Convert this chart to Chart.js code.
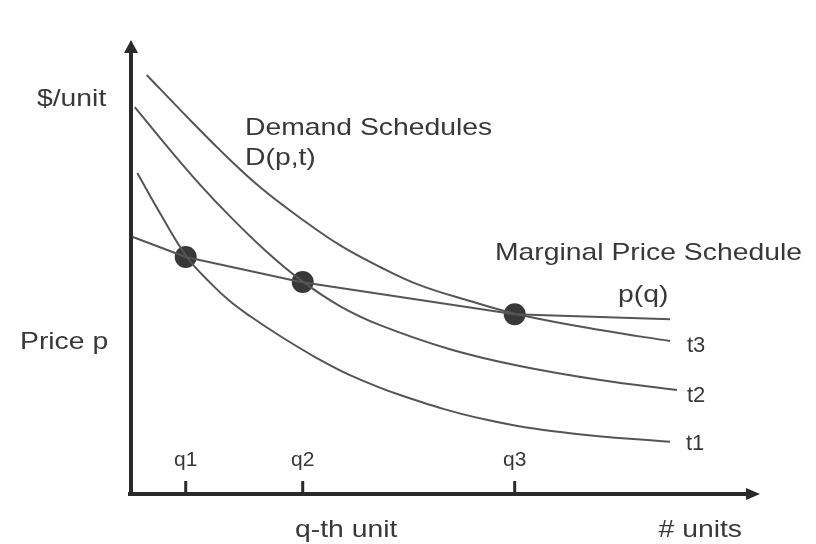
<!DOCTYPE html>
<html>
<head>
<meta charset="utf-8">
<script src="https://cdn.jsdelivr.net/npm/chart.js@4.4.1/dist/chart.umd.min.js"></script>
<style>
  html, body { margin: 0; padding: 0; background: #ffffff; }
  #wrap { width: 816px; height: 544px; }
</style>
</head>
<body>
<div id="wrap"><canvas id="c" width="816" height="544"></canvas></div>
<script>
// ---- data (arbitrary units: x = # units 0..100, y = $/unit 0..100) ----
const t1X = [1.0, 4.6, 8.9, 12.6, 15.7, 18.9, 23.7, 29.6, 34.8, 42.8, 56.0, 69.8, 85.7];
const t1Y = [70.7, 61.9, 52.2, 46.5, 42.5, 39.2, 34.8, 29.9, 26.2, 21.8, 16.5, 13.4, 11.5];

const t2X = [0.6, 6.2, 11.0, 15.7, 21.3, 27.0, 33.2, 39.6, 50.7, 61.8, 74.6, 86.8];
const t2Y = [85.2, 75.8, 68.1, 61.2, 53.7, 47.1, 41.4, 37.2, 31.9, 28.2, 25.1, 22.9];

const t3X = [2.5, 8.6, 14.1, 20.5, 26.9, 33.2, 39.6, 45.9, 53.9, 61.4, 74.6, 85.7];
const t3Y = [92.3, 83.5, 75.8, 67.6, 60.8, 54.8, 50.0, 46.0, 42.5, 39.6, 36.1, 33.7];

const priceX = [0.3, 8.7, 27.0, 61.0, 85.7];
const priceY = [56.6, 52.2, 46.7, 39.6, 38.5];

const qValues = [8.7, 27.3, 61.0];
const qLabels = ["q1", "q2", "q3"];
const dotY = [52.2, 46.7, 39.6];

const curveLabels = ["t1", "t2", "t3"];

const pts = (xs, ys) => xs.map((x, i) => ({ x: x, y: ys[i] }));

const INK = '#383838';
const LINE = '#555555';
const FONT = '"Liberation Sans", Arial, sans-serif';

function drawText(ctx, s, x, y, size, sx, align) {
  ctx.save();
  ctx.font = size + 'px ' + FONT;
  ctx.fillStyle = INK;
  ctx.textBaseline = 'alphabetic';
  ctx.textAlign = 'left';
  const w = ctx.measureText(s).width * sx;
  let left = x;
  if (align === 'center') left = x - w / 2;
  else if (align === 'right') left = x - w;
  ctx.translate(left, y);
  ctx.scale(sx, 1);
  ctx.fillText(s, 0, 0);
  ctx.restore();
}

const diagramPlugin = {
  id: 'diagram',
  beforeDatasetsDraw(chart) {
    const ctx = chart.ctx;
    const xs = chart.scales.x, ys = chart.scales.y;
    const x0 = xs.getPixelForValue(0), y0 = ys.getPixelForValue(0);
    const yTop = ys.getPixelForValue(100), xEnd = xs.getPixelForValue(100);
    ctx.save();
    ctx.strokeStyle = '#2a2a2a';
    ctx.fillStyle = '#2a2a2a';
    ctx.lineWidth = 4;
    ctx.lineCap = 'butt';
    // y axis
    ctx.beginPath();
    ctx.moveTo(x0, y0 + 2);
    ctx.lineTo(x0, yTop + 10);
    ctx.stroke();
    ctx.beginPath();
    ctx.moveTo(x0, yTop);
    ctx.lineTo(x0 - 7, yTop + 13);
    ctx.lineTo(x0 + 7, yTop + 13);
    ctx.closePath();
    ctx.fill();
    // x axis
    ctx.beginPath();
    ctx.moveTo(x0 - 3, y0);
    ctx.lineTo(xEnd - 10, y0);
    ctx.stroke();
    ctx.beginPath();
    ctx.moveTo(xEnd, y0);
    ctx.lineTo(xEnd - 14, y0 - 6);
    ctx.lineTo(xEnd - 14, y0 + 6);
    ctx.closePath();
    ctx.fill();
    // q tick marks
    ctx.lineWidth = 3;
    qValues.forEach(q => {
      const px = xs.getPixelForValue(q);
      ctx.beginPath();
      ctx.moveTo(px, y0);
      ctx.lineTo(px, y0 - 13);
      ctx.stroke();
    });
    ctx.restore();
  },
  afterDraw(chart) {
    const ctx = chart.ctx;
    const xs = chart.scales.x;
    const S = 1.18;
    // tick labels
    qValues.forEach((q, i) => {
      drawText(ctx, qLabels[i], xs.getPixelForValue(q), 466, 20, 1.05, 'center');
    });
    // curve end labels
    drawText(ctx, curveLabels[2], 687, 352, 22, 1.0, 'left');
    drawText(ctx, curveLabels[1], 687, 402, 22, 1.0, 'left');
    drawText(ctx, curveLabels[0], 686, 450, 22, 1.0, 'left');
    // annotations
    drawText(ctx, '$/unit', 37, 106, 24, S, 'left');
    drawText(ctx, 'Price p', 20, 349, 24, S, 'left');
    drawText(ctx, 'Demand Schedules', 245, 135, 24, S, 'left');
    drawText(ctx, 'D(p,t)', 245, 165, 24, S, 'left');
    drawText(ctx, 'Marginal Price Schedule', 495, 260, 24, S, 'left');
    drawText(ctx, 'p(q)', 618, 302, 24, S, 'left');
    drawText(ctx, 'q-th unit', 295, 537, 24, S, 'left');
    drawText(ctx, '# units', 742, 537, 24, S, 'right');
  }
};

const curveStyle = {
  showLine: true,
  pointRadius: 0,
  borderColor: LINE,
  borderWidth: 2,
  tension: 0.4,
  fill: false
};

new Chart(document.getElementById('c'), {
  type: 'scatter',
  data: {
    datasets: [
      Object.assign({ label: 't1', data: pts(t1X, t1Y) }, curveStyle),
      Object.assign({ label: 't2', data: pts(t2X, t2Y) }, curveStyle),
      Object.assign({ label: 't3', data: pts(t3X, t3Y) }, curveStyle),
      { label: 'p(q)', data: pts(priceX, priceY), showLine: true, pointRadius: 0,
        borderColor: LINE, borderWidth: 2, tension: 0, fill: false },
      { label: 'optimal', data: pts(qValues, dotY), showLine: false, pointRadius: 11,
        pointHoverRadius: 11, backgroundColor: '#383838', borderColor: '#383838', borderWidth: 0 }
    ]
  },
  options: {
    responsive: false,
    animation: false,
    devicePixelRatio: 1,
    layout: { padding: { left: 131, right: 56, top: 40, bottom: 50 } },
    scales: {
      x: { type: 'linear', min: 0, max: 100, display: false },
      y: { type: 'linear', min: 0, max: 100, display: false }
    },
    plugins: { legend: { display: false }, tooltip: { enabled: false } }
  },
  plugins: [diagramPlugin]
});
</script>
</body>
</html>
